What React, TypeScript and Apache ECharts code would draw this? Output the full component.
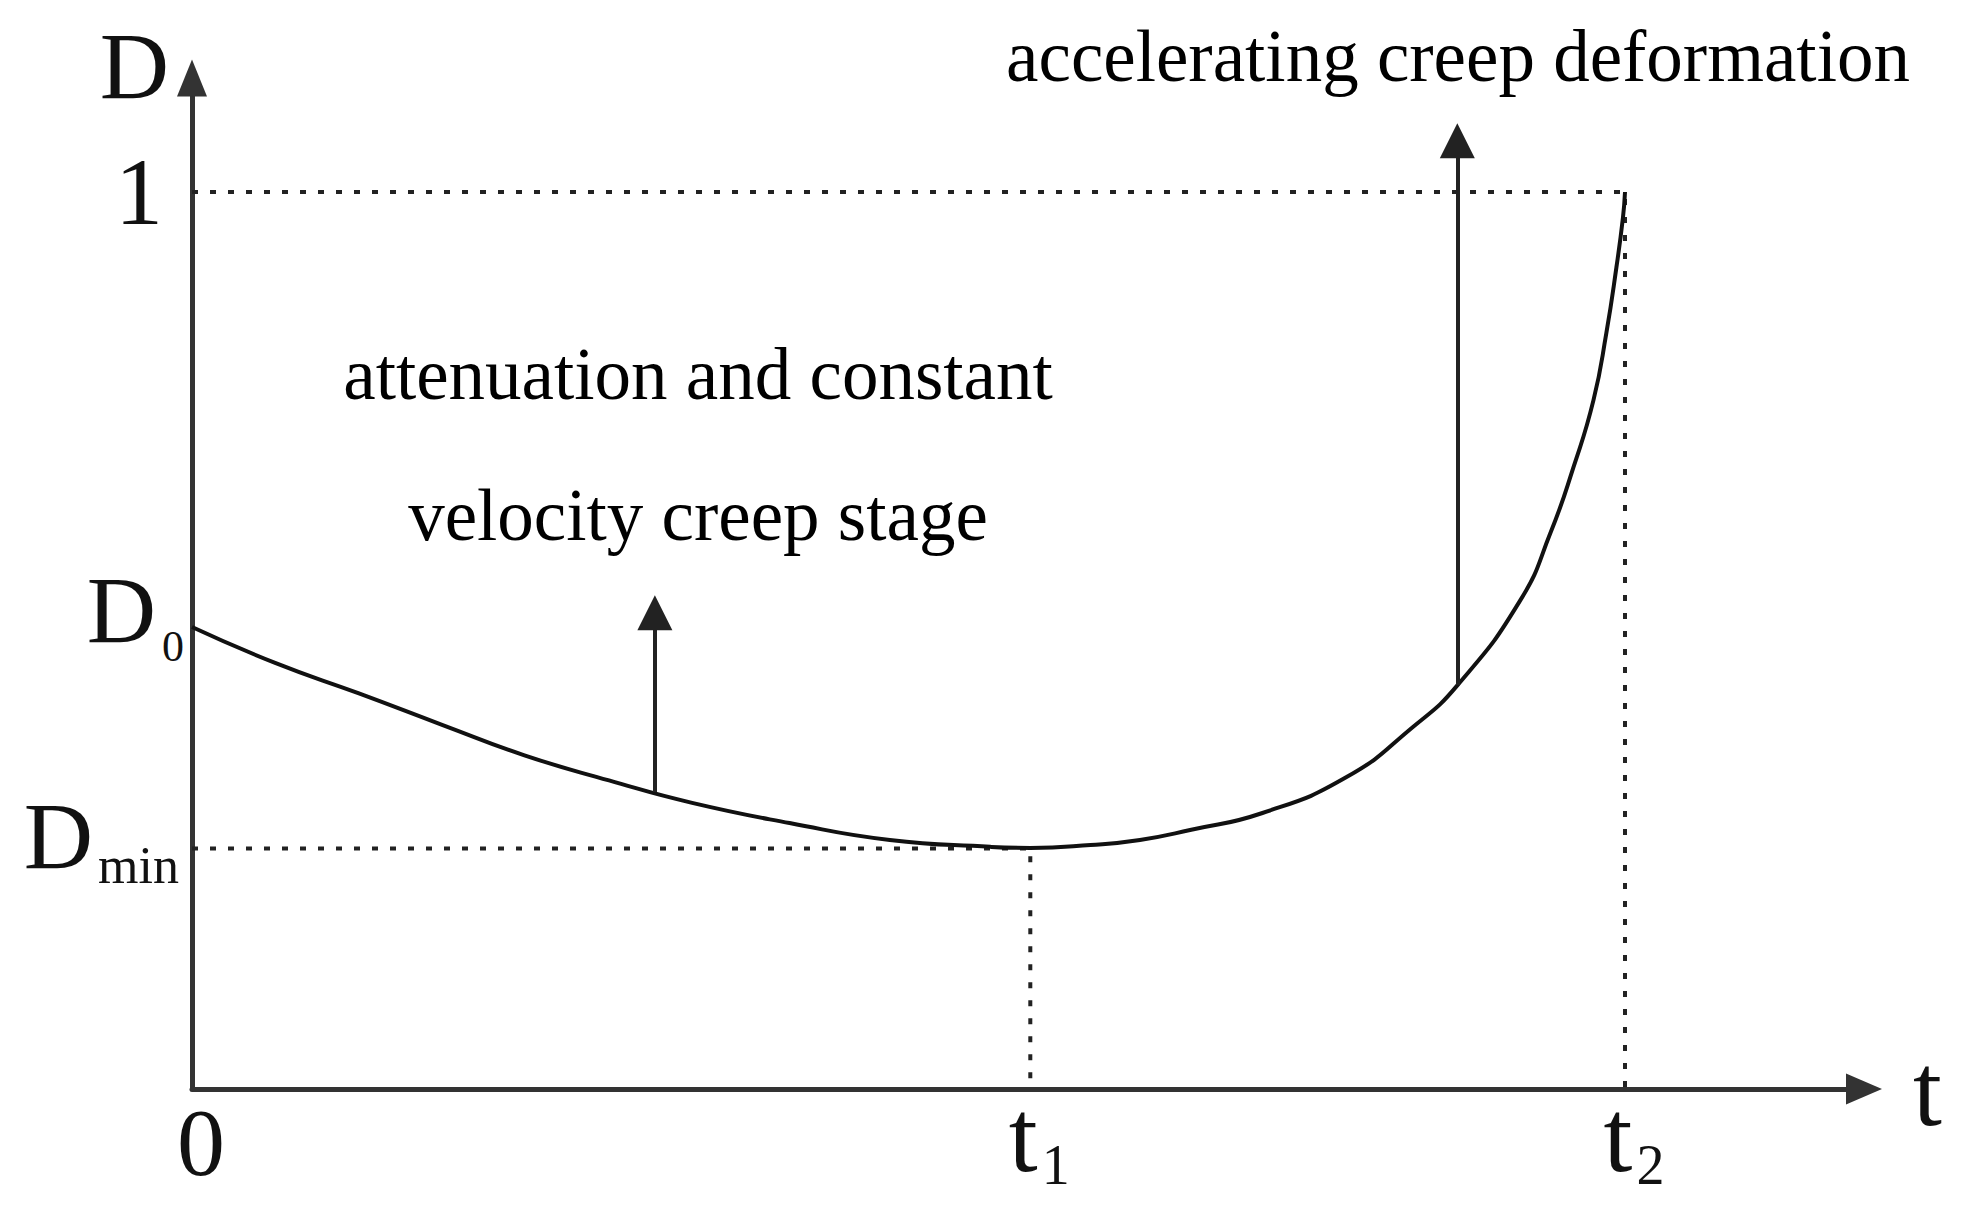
import React, { useEffect, useRef } from "react";
import * as echarts from "echarts";

// ---- data (t in units of t2, D in units of D=1) ----
const T1 = 0.585;
const T2 = 1.0;
const D0 = 0.515;
const DMIN = 0.268;
const D_ONE = 1.0;

const CURVE_T = [
  0, 0.058, 0.1165, 0.1745, 0.232, 0.291, 0.349, 0.417, 0.487, 0.557, 0.585,
  0.627, 0.6615, 0.6965, 0.747, 0.806, 0.852, 0.883, 0.927, 0.948, 0.964,
  0.978, 0.987, 0.994, 0.9986, 1.0,
];
const CURVE_D = [
  0.515, 0.475, 0.441, 0.406, 0.372, 0.344, 0.319, 0.2965, 0.2776, 0.27,
  0.2687, 0.272, 0.2776, 0.2887, 0.3077, 0.348, 0.4036, 0.45, 0.545, 0.62,
  0.693, 0.768, 0.843, 0.916, 0.972, 1.0,
];

const ARROW_STAGE1 = [
  [0.323, 0.331],
  [0.323, 0.531],
];
const ARROW_STAGE2 = [
  [0.883, 0.45],
  [0.883, 1.057],
];

const GUIDE_ONE = [
  [0, D_ONE],
  [T2, D_ONE],
  [T2, 0],
];
const GUIDE_MIN = [
  [0, DMIN],
  [T1, DMIN],
  [T1, 0],
];

const X_TICKS = [0, T1, T2];
const X_TICK_LABELS = ["{zero|0}", "{t|t}{ts|1}", "{t|t}{ts|2}"];
const Y_TICKS = [DMIN, D0, D_ONE];
const Y_TICK_LABELS = ["{dm|D}{sm|min}", "{d0|D}{s0|0}", "{one|1}"];

const ANNOTATION_ACCEL = "accelerating creep deformation";
const ANNOTATION_STAGE_1 = "attenuation and constant";
const ANNOTATION_STAGE_2 = "velocity creep stage";

const X_MAX = 1.16678;
const Y_MAX = 1.12709;

const SERIF = '"Liberation Serif", "Times New Roman", serif';

function pick(ticks: number[], labels: string[], v: number): string {
  for (let i = 0; i < ticks.length; i++) {
    if (Math.abs(ticks[i] - v) < 1e-6) return labels[i];
  }
  return "";
}

export default function App() {
  const ref = useRef<HTMLDivElement>(null);

  useEffect(() => {
    if (!ref.current) return;
    const chart = echarts.init(ref.current, null, { renderer: "svg" });

    const option: any = {
      animation: false,
      backgroundColor: "#ffffff",
      grid: {
        left: 192,
        right: 103,
        top: 78,
        bottom: 118,
        containLabel: false,
        outerBoundsMode: "none",
      },
      xAxis: {
        type: "value",
        min: 0,
        max: X_MAX,
        name: "t",
        nameLocation: "end",
        nameGap: 49,
        nameMoveOverlap: false,
        nameTextStyle: {
          fontFamily: SERIF,
          fontSize: 104,
          color: "#111",
          align: "left",
          verticalAlign: "middle",
          padding: [14, 0, 0, 0],
        },
        axisLine: {
          show: true,
          symbol: ["none", "triangle"],
          symbolSize: [31, 36],
          lineStyle: { color: "#333", width: 5 },
        },
        axisTick: { show: false },
        splitLine: { show: false },
        axisLabel: {
          show: true,
          customValues: X_TICKS,
          margin: 16,
          color: "#111",
          fontFamily: SERIF,
          formatter: (v: number) => pick(X_TICKS, X_TICK_LABELS, v),
          rich: {
            zero: {
              fontFamily: SERIF,
              fontSize: 96,
              lineHeight: 60,
              color: "#111",
              padding: [14, 0, 0, 18],
            },
            t: {
              fontFamily: SERIF,
              fontSize: 104,
              lineHeight: 60,
              color: "#111",
              padding: [0, 0, 0, 18],
            },
            ts: {
              fontFamily: SERIF,
              fontSize: 56,
              lineHeight: 60,
              color: "#111",
              padding: [59, 0, 0, 4],
            },
          },
        },
      },
      yAxis: {
        type: "value",
        min: 0,
        max: Y_MAX,
        name: "D",
        nameLocation: "end",
        nameGap: 12,
        nameMoveOverlap: false,
        nameTextStyle: {
          fontFamily: SERIF,
          fontSize: 96,
          color: "#111",
          align: "right",
          verticalAlign: "middle",
          padding: [0, 23, 0, 0],
        },
        axisLine: {
          show: true,
          symbol: ["none", "triangle"],
          symbolSize: [30, 37],
          lineStyle: { color: "#333", width: 5 },
        },
        axisTick: { show: false },
        splitLine: { show: false },
        axisLabel: {
          show: true,
          customValues: Y_TICKS,
          margin: 8,
          color: "#111",
          fontFamily: SERIF,
          formatter: (v: number) => pick(Y_TICKS, Y_TICK_LABELS, v),
          rich: {
            one: {
              fontFamily: SERIF,
              fontSize: 96,
              color: "#111",
              padding: [0, 21, 0, 0],
            },
            d0: {
              fontFamily: SERIF,
              fontSize: 96,
              color: "#111",
              padding: [0, 0, 34, 0],
            },
            s0: {
              fontFamily: SERIF,
              fontSize: 44,
              color: "#111",
              padding: [38, 0, 0, 6],
            },
            dm: {
              fontFamily: SERIF,
              fontSize: 96,
              color: "#111",
              padding: [0, 0, 24, 0],
            },
            sm: {
              fontFamily: SERIF,
              fontSize: 52,
              color: "#111",
              padding: [33, 5, 0, 5],
            },
          },
        },
      },
      series: [
        {
          type: "line",
          data: GUIDE_ONE,
          symbol: "none",
          silent: true,
          z: 2,
          lineStyle: { color: "#222", width: 4, type: [6, 12] },
        },
        {
          type: "line",
          data: GUIDE_MIN,
          symbol: "none",
          silent: true,
          z: 2,
          lineStyle: { color: "#222", width: 4, type: [6, 12] },
        },
        {
          type: "line",
          data: CURVE_T.map((t, i) => [t, CURVE_D[i]]),
          symbol: "none",
          smooth: 0.5,
          silent: true,
          z: 3,
          lineStyle: { color: "#111", width: 4 },
        },
        {
          type: "lines",
          coordinateSystem: "cartesian2d",
          data: [{ coords: ARROW_STAGE1 }, { coords: ARROW_STAGE2 }],
          symbol: ["none", "triangle"],
          symbolSize: 35,
          silent: true,
          z: 4,
          lineStyle: { color: "#222", width: 4, opacity: 1, curveness: 0 },
        },
      ],
      graphic: [
        {
          type: "text",
          x: 1458,
          y: 56,
          silent: true,
          style: {
            text: ANNOTATION_ACCEL,
            font: `73px ${SERIF}`,
            fill: "#000",
            align: "center",
            verticalAlign: "middle",
            textAlign: "center",
            textVerticalAlign: "middle",
          },
        },
        {
          type: "text",
          x: 698,
          y: 374,
          silent: true,
          style: {
            text: ANNOTATION_STAGE_1,
            font: `73px ${SERIF}`,
            fill: "#000",
            align: "center",
            verticalAlign: "middle",
            textAlign: "center",
            textVerticalAlign: "middle",
          },
        },
        {
          type: "text",
          x: 698,
          y: 515,
          silent: true,
          style: {
            text: ANNOTATION_STAGE_2,
            font: `73px ${SERIF}`,
            fill: "#000",
            align: "center",
            verticalAlign: "middle",
            textAlign: "center",
            textVerticalAlign: "middle",
          },
        },
      ],
    };

    chart.setOption(option);
    return () => {
      chart.dispose();
    };
  }, []);

  return (
    <div
      ref={ref}
      style={{
        position: "fixed",
        left: 0,
        top: 0,
        width: 1967,
        height: 1207,
        background: "#ffffff",
      }}
    />
  );
}
